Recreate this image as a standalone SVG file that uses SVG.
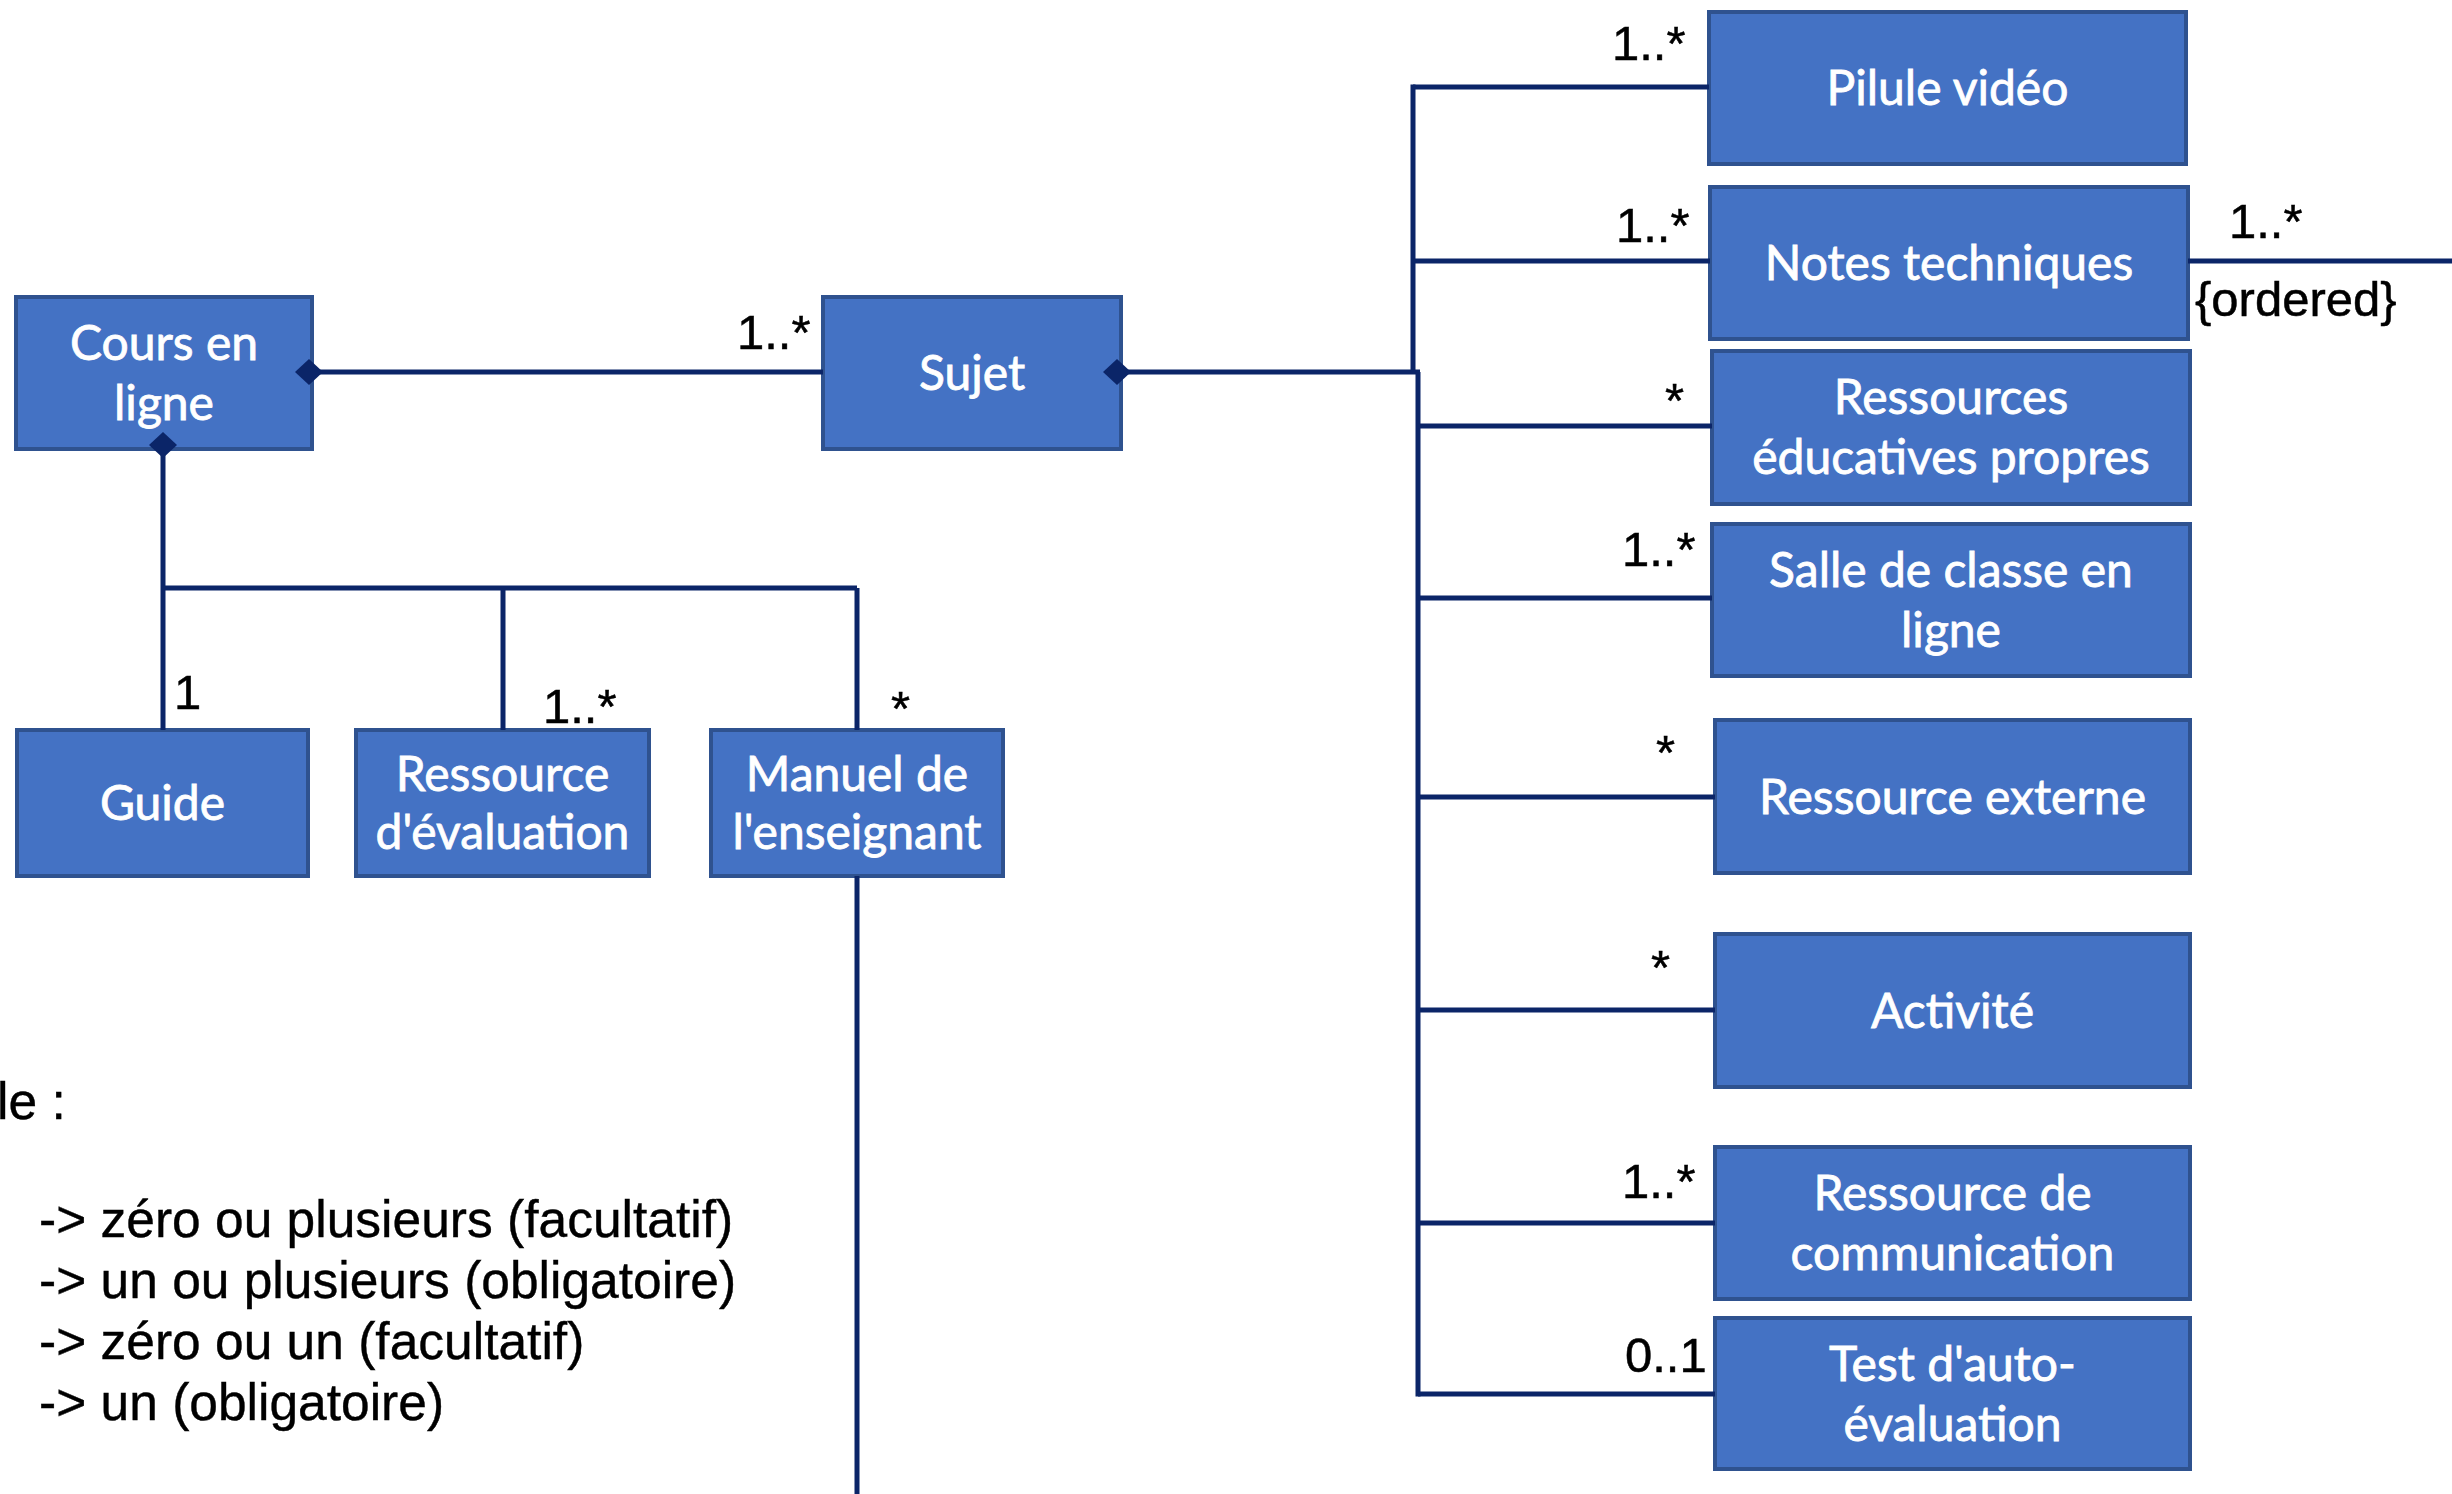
<svg xmlns="http://www.w3.org/2000/svg" width="2452" height="1494" viewBox="0 0 2452 1494">
  <style>
    .box { fill: #4472C4; stroke: #2F528F; stroke-width: 4; }
    .lbl { fill: #FFFFFF; stroke: #FFFFFF; stroke-width: 0.8; font-family: Lato, "Open Sans", sans-serif; font-size: 48px; text-anchor: middle; }
    .wire { fill: none; stroke: #0B2568; stroke-width: 5; }
    .dia { fill: #0B2568; }
    .mult { fill: #000000; stroke: #000000; stroke-width: 0.5; font-family: "Liberation Sans", Arial, sans-serif; font-size: 49px; }
    .legend { fill: #000000; stroke: #000000; stroke-width: 0.4; font-family: "Liberation Sans", Arial, sans-serif; font-size: 51.5px; }
  </style>
  <defs>
    <polygon id="diamond" points="-14,0 0,-13 14,0 0,13"/>
  </defs>
  <rect width="2452" height="1494" fill="#FFFFFF"/>

  <!-- nodes -->
  <g id="cours-en-ligne">
    <rect class="box" x="16" y="297" width="296" height="152"/>
    <text class="lbl" x="164" y="360">Cours en</text>
    <text class="lbl" x="164" y="420">ligne</text>
  </g>
  <g id="sujet">
    <rect class="box" x="823" y="297" width="298" height="152"/>
    <text class="lbl" x="972" y="390">Sujet</text>
  </g>
  <g id="guide">
    <rect class="box" x="17" y="730" width="291" height="146"/>
    <text class="lbl" x="162.5" y="820">Guide</text>
  </g>
  <g id="ressource-evaluation">
    <rect class="box" x="356" y="730" width="293" height="146"/>
    <text class="lbl" x="502.5" y="791">Ressource</text>
    <text class="lbl" x="502.5" y="849">d'évaluation</text>
  </g>
  <g id="manuel-enseignant">
    <rect class="box" x="711" y="730" width="292" height="146"/>
    <text class="lbl" x="857" y="791">Manuel de</text>
    <text class="lbl" x="857" y="849">l'enseignant</text>
  </g>
  <g id="pilule-video">
    <rect class="box" x="1709" y="12" width="477" height="152"/>
    <text class="lbl" x="1947.5" y="105">Pilule vidéo</text>
  </g>
  <g id="notes-techniques">
    <rect class="box" x="1710" y="187" width="478" height="152"/>
    <text class="lbl" x="1949" y="280">Notes techniques</text>
  </g>
  <g id="ressources-educatives">
    <rect class="box" x="1712" y="351" width="478" height="153"/>
    <text class="lbl" x="1951" y="414">Ressources</text>
    <text class="lbl" x="1951" y="474">éducatives propres</text>
  </g>
  <g id="salle-de-classe">
    <rect class="box" x="1712" y="524" width="478" height="152"/>
    <text class="lbl" x="1951" y="587">Salle de classe en</text>
    <text class="lbl" x="1951" y="647">ligne</text>
  </g>
  <g id="ressource-externe">
    <rect class="box" x="1715" y="720" width="475" height="153"/>
    <text class="lbl" x="1952.5" y="814">Ressource externe</text>
  </g>
  <g id="activite">
    <rect class="box" x="1715" y="934" width="475" height="153"/>
    <text class="lbl" x="1952.5" y="1028">Activité</text>
  </g>
  <g id="ressource-communication">
    <rect class="box" x="1715" y="1147" width="475" height="152"/>
    <text class="lbl" x="1952.5" y="1210">Ressource de</text>
    <text class="lbl" x="1952.5" y="1270">communication</text>
  </g>
  <g id="test-auto-evaluation">
    <rect class="box" x="1715" y="1318" width="475" height="151"/>
    <text class="lbl" x="1952.5" y="1381">Test d'auto-</text>
    <text class="lbl" x="1952.5" y="1441">évaluation</text>
  </g>

  <!-- connectors, drawn over the node edges so the composition diamonds show -->
  <g id="connectors">
    <path class="wire" d="M312,372 H823"/>
    <path class="wire" d="M163,449 V730"/>
    <path class="wire" d="M163,588 H857 M503,588 V730 M857,588 V730"/>
    <path class="wire" d="M857,876 V1494"/>
    <path class="wire" d="M1121,372 H1420"/>
    <path class="wire" d="M1413,84.5 V372 M1418,372 V1396.5"/>
    <path class="wire" d="M1413,87 H1709 M1413,261 H1710"/>
    <path class="wire" d="M1418,426 H1712 M1418,598 H1712 M1418,797 H1715 M1418,1010 H1715 M1418,1223 H1715 M1418,1394 H1715"/>
    <path class="wire" d="M2188,261 H2452"/>
    <use href="#diamond" class="dia" x="309" y="372"/>
    <use href="#diamond" class="dia" x="163" y="445"/>
    <use href="#diamond" class="dia" x="1117" y="372"/>
  </g>

  <!-- multiplicities -->
  <g id="multiplicities">
    <text class="mult" x="737" y="349">1..*</text>
    <text class="mult" x="174" y="709">1</text>
    <text class="mult" x="543" y="723">1..*</text>
    <text class="mult" x="891" y="725">*</text>
    <text class="mult" x="1612" y="60">1..*</text>
    <text class="mult" x="1616" y="242">1..*</text>
    <text class="mult" x="2229" y="238">1..*</text>
    <text class="mult" x="2195" y="316">{ordered}</text>
    <text class="mult" x="1665" y="417">*</text>
    <text class="mult" x="1622" y="566">1..*</text>
    <text class="mult" x="1656" y="769">*</text>
    <text class="mult" x="1651" y="984">*</text>
    <text class="mult" x="1622" y="1198">1..*</text>
    <text class="mult" x="1625" y="1372">0..1</text>
  </g>

  <!-- legend -->
  <g id="legend">
    <text class="legend" x="-3" y="1119">le :</text>
    <text class="legend" x="39" y="1237">-&gt; zéro ou plusieurs (facultatif)</text>
    <text class="legend" x="39" y="1298">-&gt; un ou plusieurs (obligatoire)</text>
    <text class="legend" x="39" y="1359">-&gt; zéro ou un (facultatif)</text>
    <text class="legend" x="39" y="1420">-&gt; un (obligatoire)</text>
  </g>
</svg>
